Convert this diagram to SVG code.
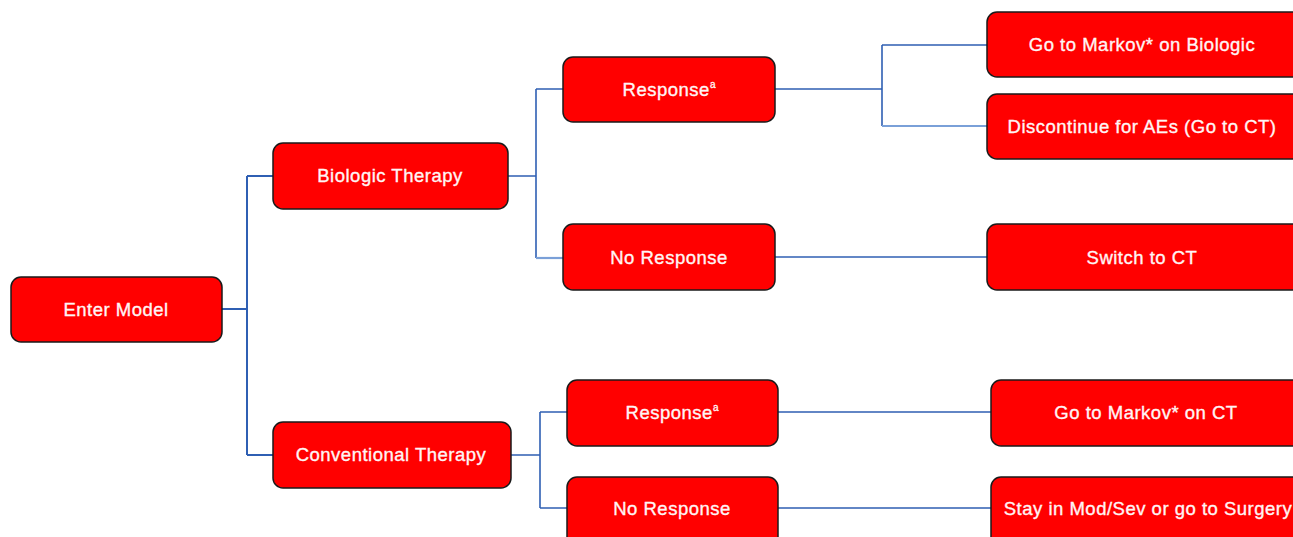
<svg xmlns="http://www.w3.org/2000/svg" width="1293" height="537" viewBox="0 0 1293 537">
<style>
.box{fill:#ff0000;stroke:#1a1a1a;stroke-width:1.5}
.t{font-family:"Liberation Sans",Arial,sans-serif;font-size:18.5px;letter-spacing:0.5px;fill:#fff5f5;stroke:#fff5f5;stroke-width:0.35;text-anchor:middle;dominant-baseline:central}
.sup{font-size:10px;letter-spacing:0}
.c{fill:none;stroke:#2f5fb3;stroke-width:1.6}
.cl{fill:none;stroke:#7aa0d8;stroke-width:2.2}
</style>
<rect width="1293" height="537" fill="#fff"/>
<g id="connectors">
<path class="c" d="M222 309H247M247 176V455M247 176H273M247 455H273" style="stroke-width:2"/>
<path class="c" d="M508 176H536M536 89V258M536 89H563"/>
<path class="cl" d="M536 258H563"/>
<path class="c" d="M775 89H882M882 45V126M882 45H987"/>
<path class="cl" d="M882 126H987"/>
<path class="c" d="M775 257H987"/>
<path class="c" d="M511 455H540M540 412V508M540 412H567M540 508H567"/>
<path class="c" d="M778 412H991M778 508H991"/>
</g>
<g id="n-enter"><rect class="box" x="11" y="277" width="211" height="65" rx="10"/><text class="t" x="116" y="309">Enter Model</text></g>
<g id="n-bio"><rect class="box" x="273" y="143" width="235" height="66" rx="10"/><text class="t" x="390" y="175">Biologic Therapy</text></g>
<g id="n-conv"><rect class="box" x="273" y="422" width="238" height="66" rx="10"/><text class="t" x="391" y="454">Conventional Therapy</text></g>
<g id="n-resp1"><rect class="box" x="563" y="57" width="212" height="65" rx="10"/><text class="t" x="669" y="89">Response<tspan class="sup" dy="-5">a</tspan></text></g>
<g id="n-noresp1"><rect class="box" x="563" y="224" width="212" height="66" rx="10"/><text class="t" x="669" y="257">No Response</text></g>
<g id="n-resp2"><rect class="box" x="567" y="380" width="211" height="66" rx="10"/><text class="t" x="672" y="412">Response<tspan class="sup" dy="-5">a</tspan></text></g>
<g id="n-noresp2"><rect class="box" x="567" y="477" width="211" height="75" rx="10"/><text class="t" x="672" y="508">No Response</text></g>
<g id="n-markovbio"><rect class="box" x="987" y="12" width="320" height="65" rx="10"/><text class="t" x="1142" y="44">Go to Markov* on Biologic</text></g>
<g id="n-discont"><rect class="box" x="987" y="94" width="320" height="65" rx="10"/><text class="t" x="1142" y="126">Discontinue for AEs (Go to CT)</text></g>
<g id="n-switch"><rect class="box" x="987" y="224" width="320" height="66" rx="10"/><text class="t" x="1142" y="257">Switch to CT</text></g>
<g id="n-markovct"><rect class="box" x="991" y="380" width="320" height="66" rx="10"/><text class="t" x="1146" y="412">Go to Markov* on CT</text></g>
<g id="n-stay"><rect class="box" x="991" y="477" width="320" height="75" rx="10"/><text class="t" x="1148" y="508">Stay in Mod/Sev or go to Surgery</text></g>
</svg>
